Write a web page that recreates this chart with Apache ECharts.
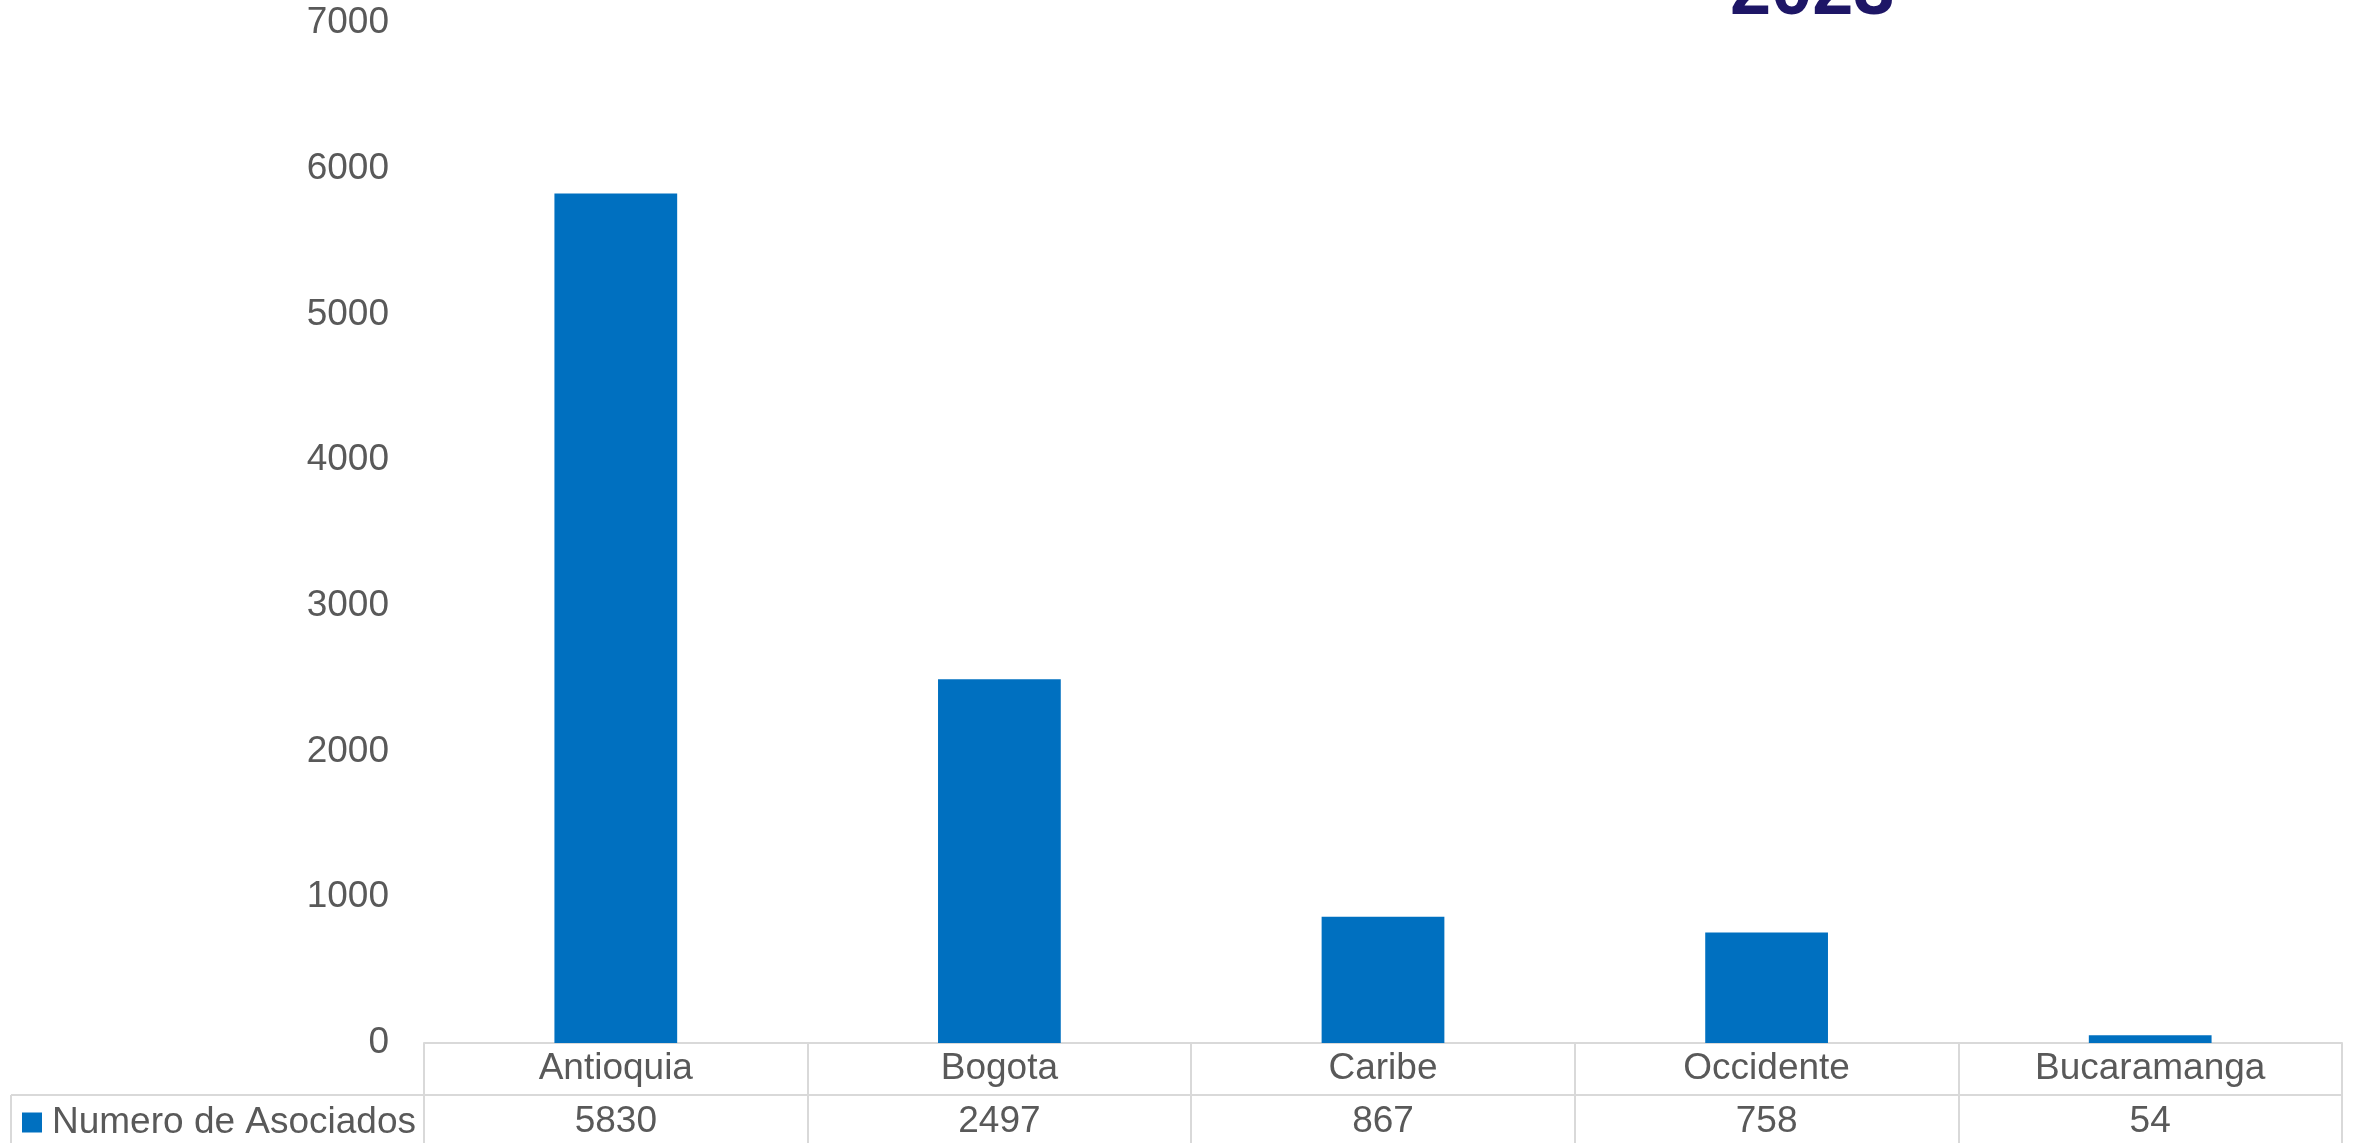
<!DOCTYPE html>
<html>
<head>
<meta charset="utf-8">
<script src="https://cdn.jsdelivr.net/npm/echarts@6/dist/echarts.min.js"></script>
<style>
html,body{margin:0;padding:0;background:#fff;}
#chart{width:2359px;height:1143px;}
</style>
</head>
<body>
<div id="chart"></div>
<script>
const categories = ['Antioquia', 'Bogota', 'Caribe', 'Occidente', 'Bucaramanga'];
const seriesName = 'Numero de Asociados';
const values = [5830, 2497, 867, 758, 54];
const titleText = '2023';

const FONT = '"Liberation Sans", Arial, sans-serif';
const GRAY = '#595959';
const LINE = '#D9D9D9';

const chart = echarts.init(document.getElementById('chart'));
chart.setOption({
  animation: false,
  backgroundColor: '#fff',
  title: {
    text: titleText,
    left: 1730,
    top: -43,
    padding: 0,
    textStyle: { fontFamily: FONT, fontSize: 74, fontWeight: 'bold', color: '#1E1666', lineHeight: 74 }
  },
  legend: {
    data: [seriesName],
    left: 22,
    top: 1104,
    padding: 0,
    icon: 'rect',
    itemWidth: 20,
    itemHeight: 20,
    textStyle: { fontFamily: FONT, fontSize: 37, color: GRAY, lineHeight: 37, padding: [0, 0, 0, 5] }
  },
  grid: { left: 424, right: 17, top: 23, bottom: 100, containLabel: false },
  xAxis: [
    {
      type: 'category',
      data: categories,
      position: 'bottom',
      axisLine: { show: true, lineStyle: { color: LINE, width: 2 } },
      axisTick: { show: true, length: 100, lineStyle: { color: LINE, width: 2 } },
      axisLabel: { fontFamily: FONT, fontSize: 37, color: GRAY, verticalAlign: 'middle', margin: 26 }
    },
    {
      type: 'category',
      data: categories,
      position: 'bottom',
      offset: 52,
      axisLine: { show: true, lineStyle: { color: LINE, width: 2 } },
      axisTick: { show: false },
      axisLabel: {
        fontFamily: FONT, fontSize: 37, color: GRAY, verticalAlign: 'middle', margin: 27,
        formatter: function (v, i) { return String(values[i]); }
      }
    }
  ],
  yAxis: {
    type: 'value',
    min: 0,
    max: 7000,
    interval: 1000,
    axisLine: { show: false },
    axisTick: { show: false },
    splitLine: { show: false },
    axisLabel: { fontFamily: FONT, fontSize: 37, color: GRAY, margin: 35, formatter: function (v) { return String(v); } }
  },
  series: [
    {
      name: seriesName,
      type: 'bar',
      data: values,
      barWidth: '32%',
      itemStyle: { color: '#0070C0' }
    }
  ],
  graphic: [
    { type: 'line', shape: { x1: 11, y1: 1095, x2: 424, y2: 1095 }, style: { stroke: LINE, lineWidth: 2 }, silent: true },
    { type: 'line', shape: { x1: 11, y1: 1095, x2: 11, y2: 1143 }, style: { stroke: LINE, lineWidth: 2 }, silent: true }
  ]
});
</script>
</body>
</html>
